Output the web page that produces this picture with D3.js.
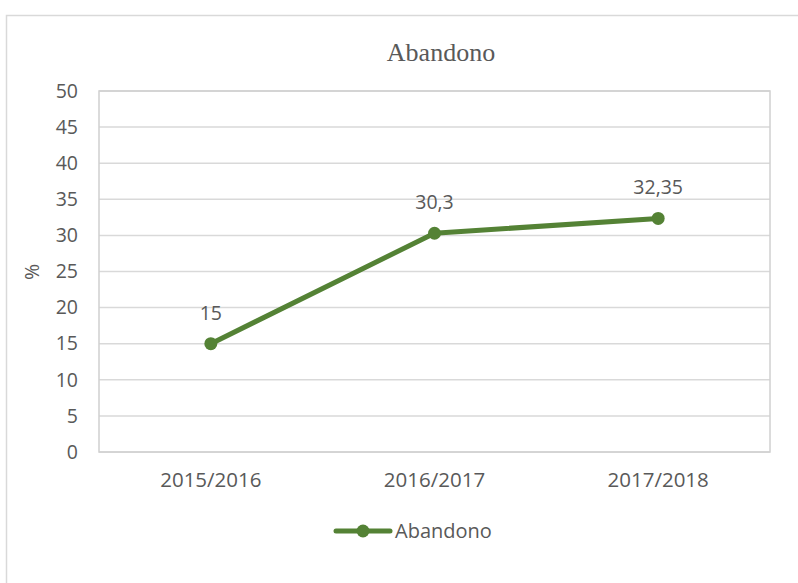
<!DOCTYPE html>
<html>
<head>
<meta charset="utf-8">
<script src="https://cdn.jsdelivr.net/npm/d3@7"></script>
<style>
  body { margin: 0; background: #fff; }
  text { font-family: "Open Sans", Lato, sans-serif; fill: #595959; }
</style>
</head>
<body>
<div id="chart"></div>
<script>
// data
var categories = ["2015/2016", "2016/2017", "2017/2018"];
var values = [15, 30.3, 32.35];
var valueLabels = ["15", "30,3", "32,35"];
var yTicks = [0, 5, 10, 15, 20, 25, 30, 35, 40, 45, 50];
var seriesName = "Abandono";

var W = 798, H = 583;
var margin = {top: 91, right: 28, bottom: 131, left: 99},
    width = W - margin.left - margin.right,
    height = H - margin.top - margin.bottom;

var green = "#548235";
var fs = "19.5px";

var svg = d3.select("#chart").append("svg")
    .attr("width", W)
    .attr("height", H);

// outer chart frame
svg.append("rect")
    .attr("x", 6.5).attr("y", 15.5)
    .attr("width", W).attr("height", H)
    .attr("fill", "none")
    .attr("stroke", "#d9d9d9")
    .attr("stroke-width", 1.5);

svg.append("text")
    .attr("x", 441).attr("y", 61)
    .attr("text-anchor", "middle")
    .style("font-family", "'Liberation Serif', 'DejaVu Serif', serif")
    .style("font-size", "26px")
    .text("Abandono");

var g = svg.append("g")
    .attr("transform", "translate(" + margin.left + "," + margin.top + ")");

var x = d3.scaleBand().domain(categories).range([0, width]);
var y = d3.scaleLinear().domain([0, 50]).range([height, 0]);

// gridlines
g.selectAll(".grid")
    .data(yTicks)
    .enter().append("line")
      .attr("x1", 0).attr("x2", width)
      .attr("y1", function(d) { return y(d); })
      .attr("y2", function(d) { return y(d); })
      .attr("stroke", "#d9d9d9")
      .attr("stroke-width", 1.5);

// plot frame
g.append("rect")
    .attr("width", width).attr("height", height)
    .attr("fill", "none")
    .attr("stroke", "#d0d0d0")
    .attr("stroke-width", 1.5);

var yAxis = d3.axisLeft(y).tickValues(yTicks).tickSize(0).tickPadding(21);
g.append("g").call(yAxis)
  .call(function(s) { s.select(".domain").remove(); })
  .selectAll("text")
    .style("font-size", fs)
    .attr("fill", "#595959");

var xAxis = d3.axisBottom(x).tickSize(0).tickPadding(20);
g.append("g")
    .attr("transform", "translate(0," + height + ")")
    .call(xAxis)
  .call(function(s) { s.select(".domain").remove(); })
  .selectAll("text")
    .style("font-size", "20.5px")
    .attr("fill", "#595959");

// y title
svg.append("text")
    .attr("transform", "translate(39,272) rotate(-90)")
    .attr("text-anchor", "middle")
    .style("font-size", fs)
    .text("%");

var cx = function(d, i) { return x(categories[i]) + x.bandwidth() / 2; };

var line = d3.line()
    .x(function(d, i) { return cx(d, i); })
    .y(function(d) { return y(d); });

g.append("path")
    .datum(values)
    .attr("d", line)
    .attr("fill", "none")
    .attr("stroke", green)
    .attr("stroke-width", 5)
    .attr("stroke-linejoin", "round")
    .attr("stroke-linecap", "round");

g.selectAll(".dot")
    .data(values)
    .enter().append("circle")
      .attr("cx", cx)
      .attr("cy", function(d) { return y(d); })
      .attr("r", 6.5)
      .attr("fill", green);

g.selectAll(".lbl")
    .data(values)
    .enter().append("text")
      .attr("x", cx)
      .attr("y", function(d) { return y(d) - 24; })
      .attr("text-anchor", "middle")
      .style("font-size", fs)
      .attr("fill", "#404040")
      .text(function(d, i) { return valueLabels[i]; });

// legend
var leg = svg.append("g").attr("transform", "translate(336,531)");
leg.append("line")
    .attr("x1", 0).attr("x2", 54)
    .attr("stroke", green).attr("stroke-width", 5)
    .attr("stroke-linecap", "round");
leg.append("circle").attr("cx", 27).attr("r", 6.5).attr("fill", green);
leg.append("text")
    .attr("x", 59).attr("y", 7)
    .style("font-size", "20px")
    .text(seriesName);
</script>
</body>
</html>
